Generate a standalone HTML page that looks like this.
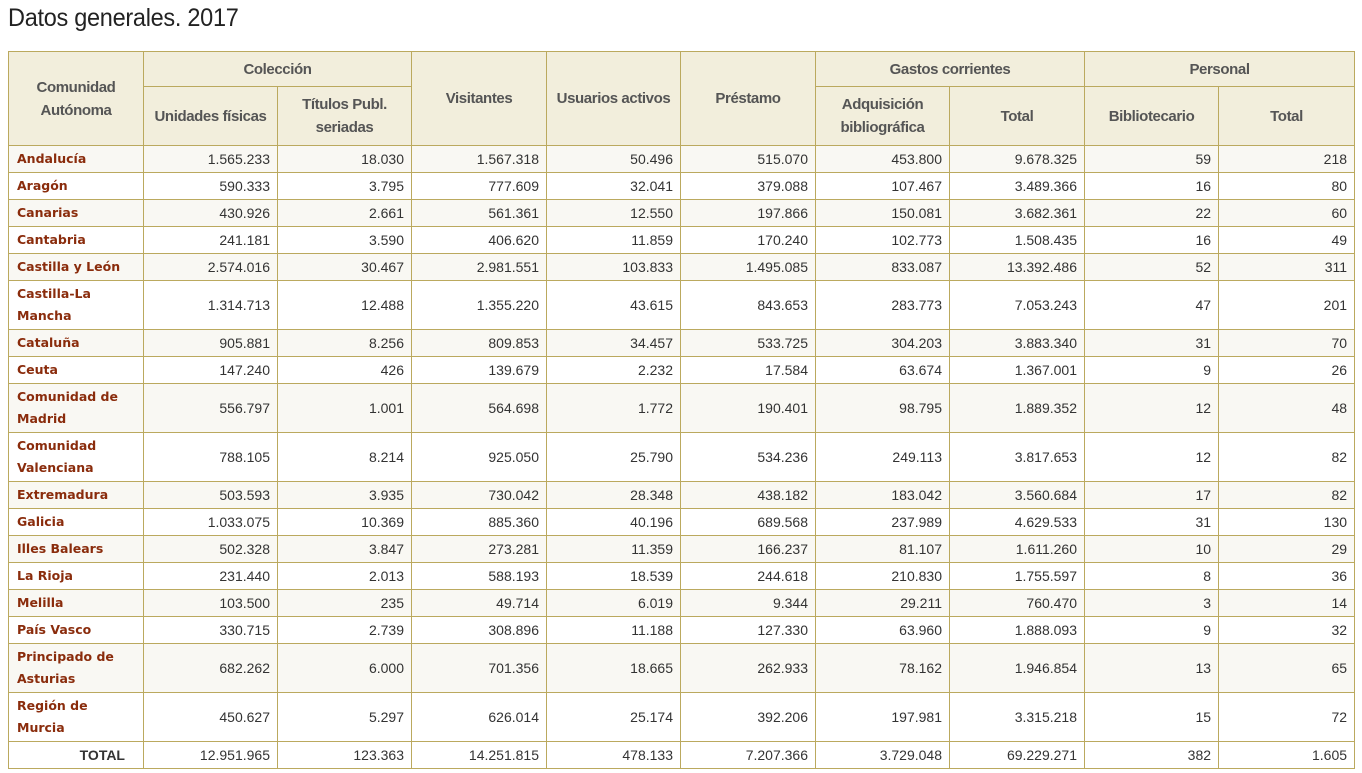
<!DOCTYPE html>
<html><head><meta charset="utf-8"><style>
body{margin:0;background:#fff;width:1362px;height:773px;overflow:hidden;font-family:"Liberation Sans",Arial,sans-serif}
h1{position:absolute;left:8px;top:4px;margin:0;font-weight:normal;font-size:25px;color:#222;letter-spacing:-0.3px;transform:scaleX(0.94);transform-origin:left}
table{position:absolute;left:8px;top:51px;width:1346px;border-collapse:collapse;table-layout:fixed;font-size:14px}
td,th{border:1px solid #bba95e;padding:0 8px;color:#333}
th{background:#f2eedc;color:#555;font-weight:bold;font-size:15px;letter-spacing:-0.4px;text-align:center;line-height:23px}
td{text-align:right;height:26px;line-height:22px;padding:0 7px 0 6px}
td.n{text-align:left;font-family:"DejaVu Sans",Verdana,sans-serif;font-weight:bold;font-size:12.5px;color:#8a2c0c;line-height:22px;padding-left:8px}
tr.o td{background:#f9f8f3}
tr.d td{height:48px}
tr.t td{background:#fff}
</style></head><body>
<h1>Datos generales. 2017</h1>
<table>
<colgroup><col style="width:135px"><col style="width:134px"><col style="width:134px"><col style="width:135px"><col style="width:134px"><col style="width:135px"><col style="width:134px"><col style="width:135px"><col style="width:134px"><col style="width:136px"></colgroup>
<tr style="height:35px"><th rowspan="2">Comunidad<br>Autónoma</th><th colspan="2">Colección</th><th rowspan="2">Visitantes</th><th rowspan="2">Usuarios activos</th><th rowspan="2">Préstamo</th><th colspan="2">Gastos corrientes</th><th colspan="2">Personal</th></tr>
<tr style="height:59px"><th>Unidades físicas</th><th>Títulos Publ.<br>seriadas</th><th>Adquisición<br>bibliográfica</th><th>Total</th><th>Bibliotecario</th><th>Total</th></tr>
<tr class="o"><td class="n">Andalucía</td><td>1.565.233</td><td>18.030</td><td>1.567.318</td><td>50.496</td><td>515.070</td><td>453.800</td><td>9.678.325</td><td>59</td><td>218</td></tr>
<tr><td class="n">Aragón</td><td>590.333</td><td>3.795</td><td>777.609</td><td>32.041</td><td>379.088</td><td>107.467</td><td>3.489.366</td><td>16</td><td>80</td></tr>
<tr class="o"><td class="n">Canarias</td><td>430.926</td><td>2.661</td><td>561.361</td><td>12.550</td><td>197.866</td><td>150.081</td><td>3.682.361</td><td>22</td><td>60</td></tr>
<tr><td class="n">Cantabria</td><td>241.181</td><td>3.590</td><td>406.620</td><td>11.859</td><td>170.240</td><td>102.773</td><td>1.508.435</td><td>16</td><td>49</td></tr>
<tr class="o"><td class="n">Castilla y León</td><td>2.574.016</td><td>30.467</td><td>2.981.551</td><td>103.833</td><td>1.495.085</td><td>833.087</td><td>13.392.486</td><td>52</td><td>311</td></tr>
<tr class="d"><td class="n">Castilla-La<br>Mancha</td><td>1.314.713</td><td>12.488</td><td>1.355.220</td><td>43.615</td><td>843.653</td><td>283.773</td><td>7.053.243</td><td>47</td><td>201</td></tr>
<tr class="o"><td class="n">Cataluña</td><td>905.881</td><td>8.256</td><td>809.853</td><td>34.457</td><td>533.725</td><td>304.203</td><td>3.883.340</td><td>31</td><td>70</td></tr>
<tr><td class="n">Ceuta</td><td>147.240</td><td>426</td><td>139.679</td><td>2.232</td><td>17.584</td><td>63.674</td><td>1.367.001</td><td>9</td><td>26</td></tr>
<tr class="o d"><td class="n">Comunidad de<br>Madrid</td><td>556.797</td><td>1.001</td><td>564.698</td><td>1.772</td><td>190.401</td><td>98.795</td><td>1.889.352</td><td>12</td><td>48</td></tr>
<tr class="d"><td class="n">Comunidad<br>Valenciana</td><td>788.105</td><td>8.214</td><td>925.050</td><td>25.790</td><td>534.236</td><td>249.113</td><td>3.817.653</td><td>12</td><td>82</td></tr>
<tr class="o"><td class="n">Extremadura</td><td>503.593</td><td>3.935</td><td>730.042</td><td>28.348</td><td>438.182</td><td>183.042</td><td>3.560.684</td><td>17</td><td>82</td></tr>
<tr><td class="n">Galicia</td><td>1.033.075</td><td>10.369</td><td>885.360</td><td>40.196</td><td>689.568</td><td>237.989</td><td>4.629.533</td><td>31</td><td>130</td></tr>
<tr class="o"><td class="n">Illes Balears</td><td>502.328</td><td>3.847</td><td>273.281</td><td>11.359</td><td>166.237</td><td>81.107</td><td>1.611.260</td><td>10</td><td>29</td></tr>
<tr><td class="n">La Rioja</td><td>231.440</td><td>2.013</td><td>588.193</td><td>18.539</td><td>244.618</td><td>210.830</td><td>1.755.597</td><td>8</td><td>36</td></tr>
<tr class="o"><td class="n">Melilla</td><td>103.500</td><td>235</td><td>49.714</td><td>6.019</td><td>9.344</td><td>29.211</td><td>760.470</td><td>3</td><td>14</td></tr>
<tr><td class="n">País Vasco</td><td>330.715</td><td>2.739</td><td>308.896</td><td>11.188</td><td>127.330</td><td>63.960</td><td>1.888.093</td><td>9</td><td>32</td></tr>
<tr class="o d"><td class="n">Principado de<br>Asturias</td><td>682.262</td><td>6.000</td><td>701.356</td><td>18.665</td><td>262.933</td><td>78.162</td><td>1.946.854</td><td>13</td><td>65</td></tr>
<tr class="d"><td class="n">Región de<br>Murcia</td><td>450.627</td><td>5.297</td><td>626.014</td><td>25.174</td><td>392.206</td><td>197.981</td><td>3.315.218</td><td>15</td><td>72</td></tr>
<tr class="t"><td style="text-align:right;font-weight:bold;padding-right:18px">TOTAL</td><td>12.951.965</td><td>123.363</td><td>14.251.815</td><td>478.133</td><td>7.207.366</td><td>3.729.048</td><td>69.229.271</td><td>382</td><td>1.605</td></tr>
</table>
</body></html>
